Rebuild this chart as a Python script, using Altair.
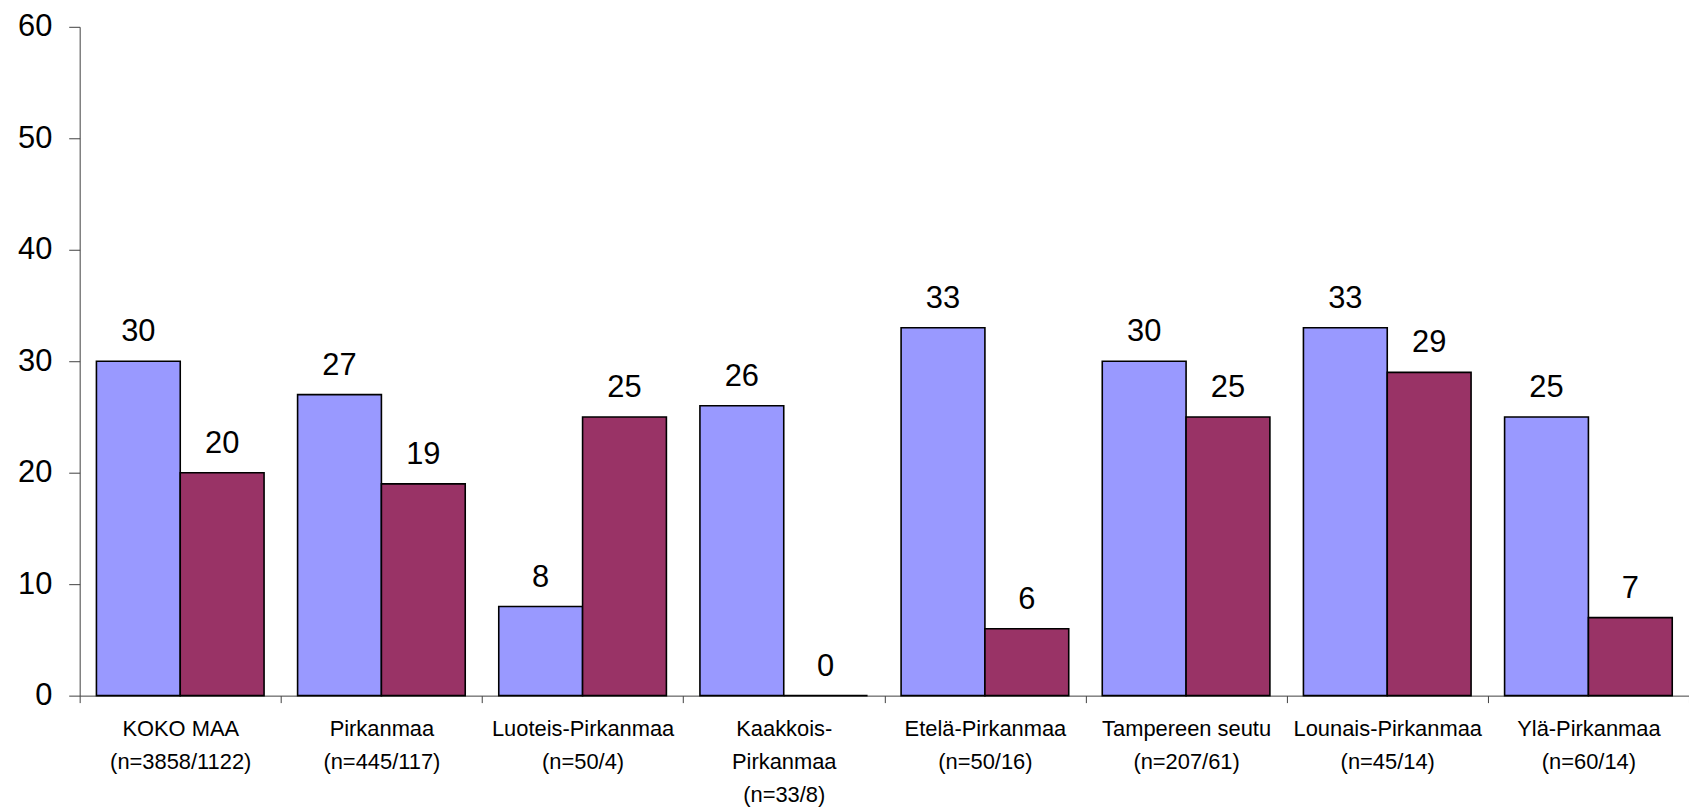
import altair as alt
import pandas as pd

categories = [
    "KOKO MAA|(n=3858/1122)",
    "Pirkanmaa|(n=445/117)",
    "Luoteis-Pirkanmaa|(n=50/4)",
    "Kaakkois-|Pirkanmaa|(n=33/8)",
    "Etelä-Pirkanmaa|(n=50/16)",
    "Tampereen seutu|(n=207/61)",
    "Lounais-Pirkanmaa|(n=45/14)",
    "Ylä-Pirkanmaa|(n=60/14)",
]
series_names = ["Sarja 1", "Sarja 2"]
series1 = [30, 27, 8, 26, 33, 30, 33, 25]
series2 = [20, 19, 25, 0, 6, 25, 29, 7]
colors = ["#9999FF", "#993366"]

rows = []
for c, a, b in zip(categories, series1, series2):
    rows.append({"cat": c, "series": series_names[0], "value": a})
    rows.append({"cat": c, "series": series_names[1], "value": b})
df = pd.DataFrame(rows)

FONT = "Liberation Sans"

x_scale = alt.Scale(paddingInner=0, paddingOuter=0)
x_enc = alt.X(
    "cat:N",
    sort=categories,
    scale=x_scale,
    axis=alt.Axis(
        title=None,
        labelAngle=0,
        labelExpr="split(datum.label, '|')",
        labelFont=FONT,
        labelFontSize=22,
        labelColor="#000000",
        labelLineHeight=33,
        labelBaseline="top",
        labelPadding=16,
        labelLimit=300,
        tickBand="extent",
        tickSize=7,
        tickColor="#404040",
        domainColor="#404040",
        grid=False,
    ),
)
xoff_scale = alt.Scale(paddingInner=0, paddingOuter=0.2)
y_enc = alt.Y(
    "value:Q",
    scale=alt.Scale(domain=[0, 60], nice=False),
    axis=alt.Axis(
        title=None,
        values=[0, 10, 20, 30, 40, 50, 60],
        labelFont=FONT,
        labelFontSize=31,
        labelColor="#000000",
        labelPadding=17,
        tickSize=11,
        tickColor="#404040",
        domainColor="#404040",
        grid=False,
    ),
)

bars = alt.Chart(df).mark_bar(stroke="#000000", strokeWidth=1.6).encode(
    x=x_enc,
    xOffset=alt.XOffset("series:N", sort=series_names, scale=xoff_scale),
    y=y_enc,
    color=alt.Color(
        "series:N",
        sort=series_names,
        scale=alt.Scale(domain=series_names, range=colors),
        legend=None,
    ),
)

labels = alt.Chart(df).mark_text(
    font=FONT, fontSize=31, color="#000000", baseline="alphabetic", dy=-20
).encode(
    x=alt.X("cat:N", sort=categories, scale=x_scale),
    xOffset=alt.XOffset("series:N", sort=series_names, scale=xoff_scale),
    y=alt.Y("value:Q", scale=alt.Scale(domain=[0, 60], nice=False)),
    text=alt.Text("value:Q"),
)

chart = (
    alt.layer(bars, labels)
    .properties(
        width=1617,
        height=672,
        background="#ffffff",
        autosize=alt.AutoSizeParams(type="none"),
        padding={"left": 72, "top": 17, "right": 0, "bottom": 111},
    )
    .configure_view(stroke="transparent", strokeWidth=0)
)

chart.save("out.html", embed_options={"renderer": "svg", "actions": False})
